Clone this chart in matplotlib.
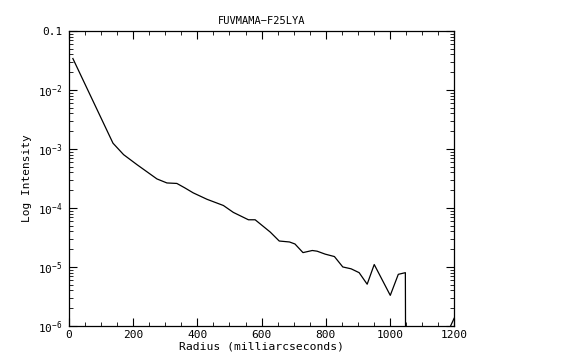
import numpy as np
import matplotlib.pyplot as plt
from matplotlib.ticker import FixedLocator, FuncFormatter, LogLocator, MultipleLocator

radius = [12, 137, 170, 212, 274, 305, 336, 360, 387, 430, 481, 512, 559, 580,
          627, 655, 687, 704, 729, 758, 773, 798, 827, 853, 879, 904, 929, 951,
          1001, 1026, 1048, 1052, 1187, 1200]
intensity = [0.034, 1.25e-3, 8.0e-4, 5.4e-4, 3.1e-4, 2.65e-4, 2.6e-4, 2.2e-4,
             1.8e-4, 1.4e-4, 1.1e-4, 8.4e-5, 6.3e-5, 6.3e-5, 3.9e-5, 2.75e-5,
             2.65e-5, 2.45e-5, 1.75e-5, 1.9e-5, 1.85e-5, 1.65e-5, 1.5e-5,
             1.0e-5, 9.3e-6, 8.0e-6, 5.1e-6, 1.1e-5, 3.3e-6, 7.5e-6, 8.0e-6,
             1e-12, 9.5e-7, 1.35e-6]

plt.rcParams['font.family'] = 'DejaVu Sans Mono'
plt.rcParams['mathtext.default'] = 'regular'

fig = plt.figure(figsize=(5.8, 3.59), dpi=100)
ax = fig.add_axes([0.119, 0.092, 0.664, 0.822])

ax.plot(radius, intensity, color='black', lw=0.9)
ax.set_yscale('log')
ax.set_xlim(0, 1200)
ax.set_ylim(1e-6, 0.1)

ax.xaxis.set_major_locator(MultipleLocator(200))
ax.xaxis.set_minor_locator(MultipleLocator(50))
ax.yaxis.set_major_locator(FixedLocator([1e-6, 1e-5, 1e-4, 1e-3, 1e-2, 1e-1]))
ax.yaxis.set_minor_locator(LogLocator(base=10, subs=np.arange(2, 10)))


def ylab(v, pos):
    if abs(v - 0.1) < 1e-9:
        return '0.1'
    return r'$10^{%d}$' % round(np.log10(v))


ax.yaxis.set_major_formatter(FuncFormatter(ylab))
ax.yaxis.set_minor_formatter(FuncFormatter(lambda v, p: ''))

ax.tick_params(which='both', direction='in', top=True, right=True, labelsize=8)
ax.tick_params(which='major', length=6, width=0.8)
ax.tick_params(which='minor', length=3, width=0.6)
ax.tick_params(axis='x', which='major', pad=3)
ax.tick_params(axis='y', which='major', pad=5)
for s in ax.spines.values():
    s.set_linewidth(0.9)

ax.set_xlabel('Radius (milliarcseconds)', fontsize=8.2, labelpad=1)
ax.set_ylabel('Log Intensity', fontsize=8, labelpad=4)
ax.set_title('FUVMAMA\u2212F25LYA', fontsize=7.5, pad=5)

fig.savefig('out.png', dpi=100)
